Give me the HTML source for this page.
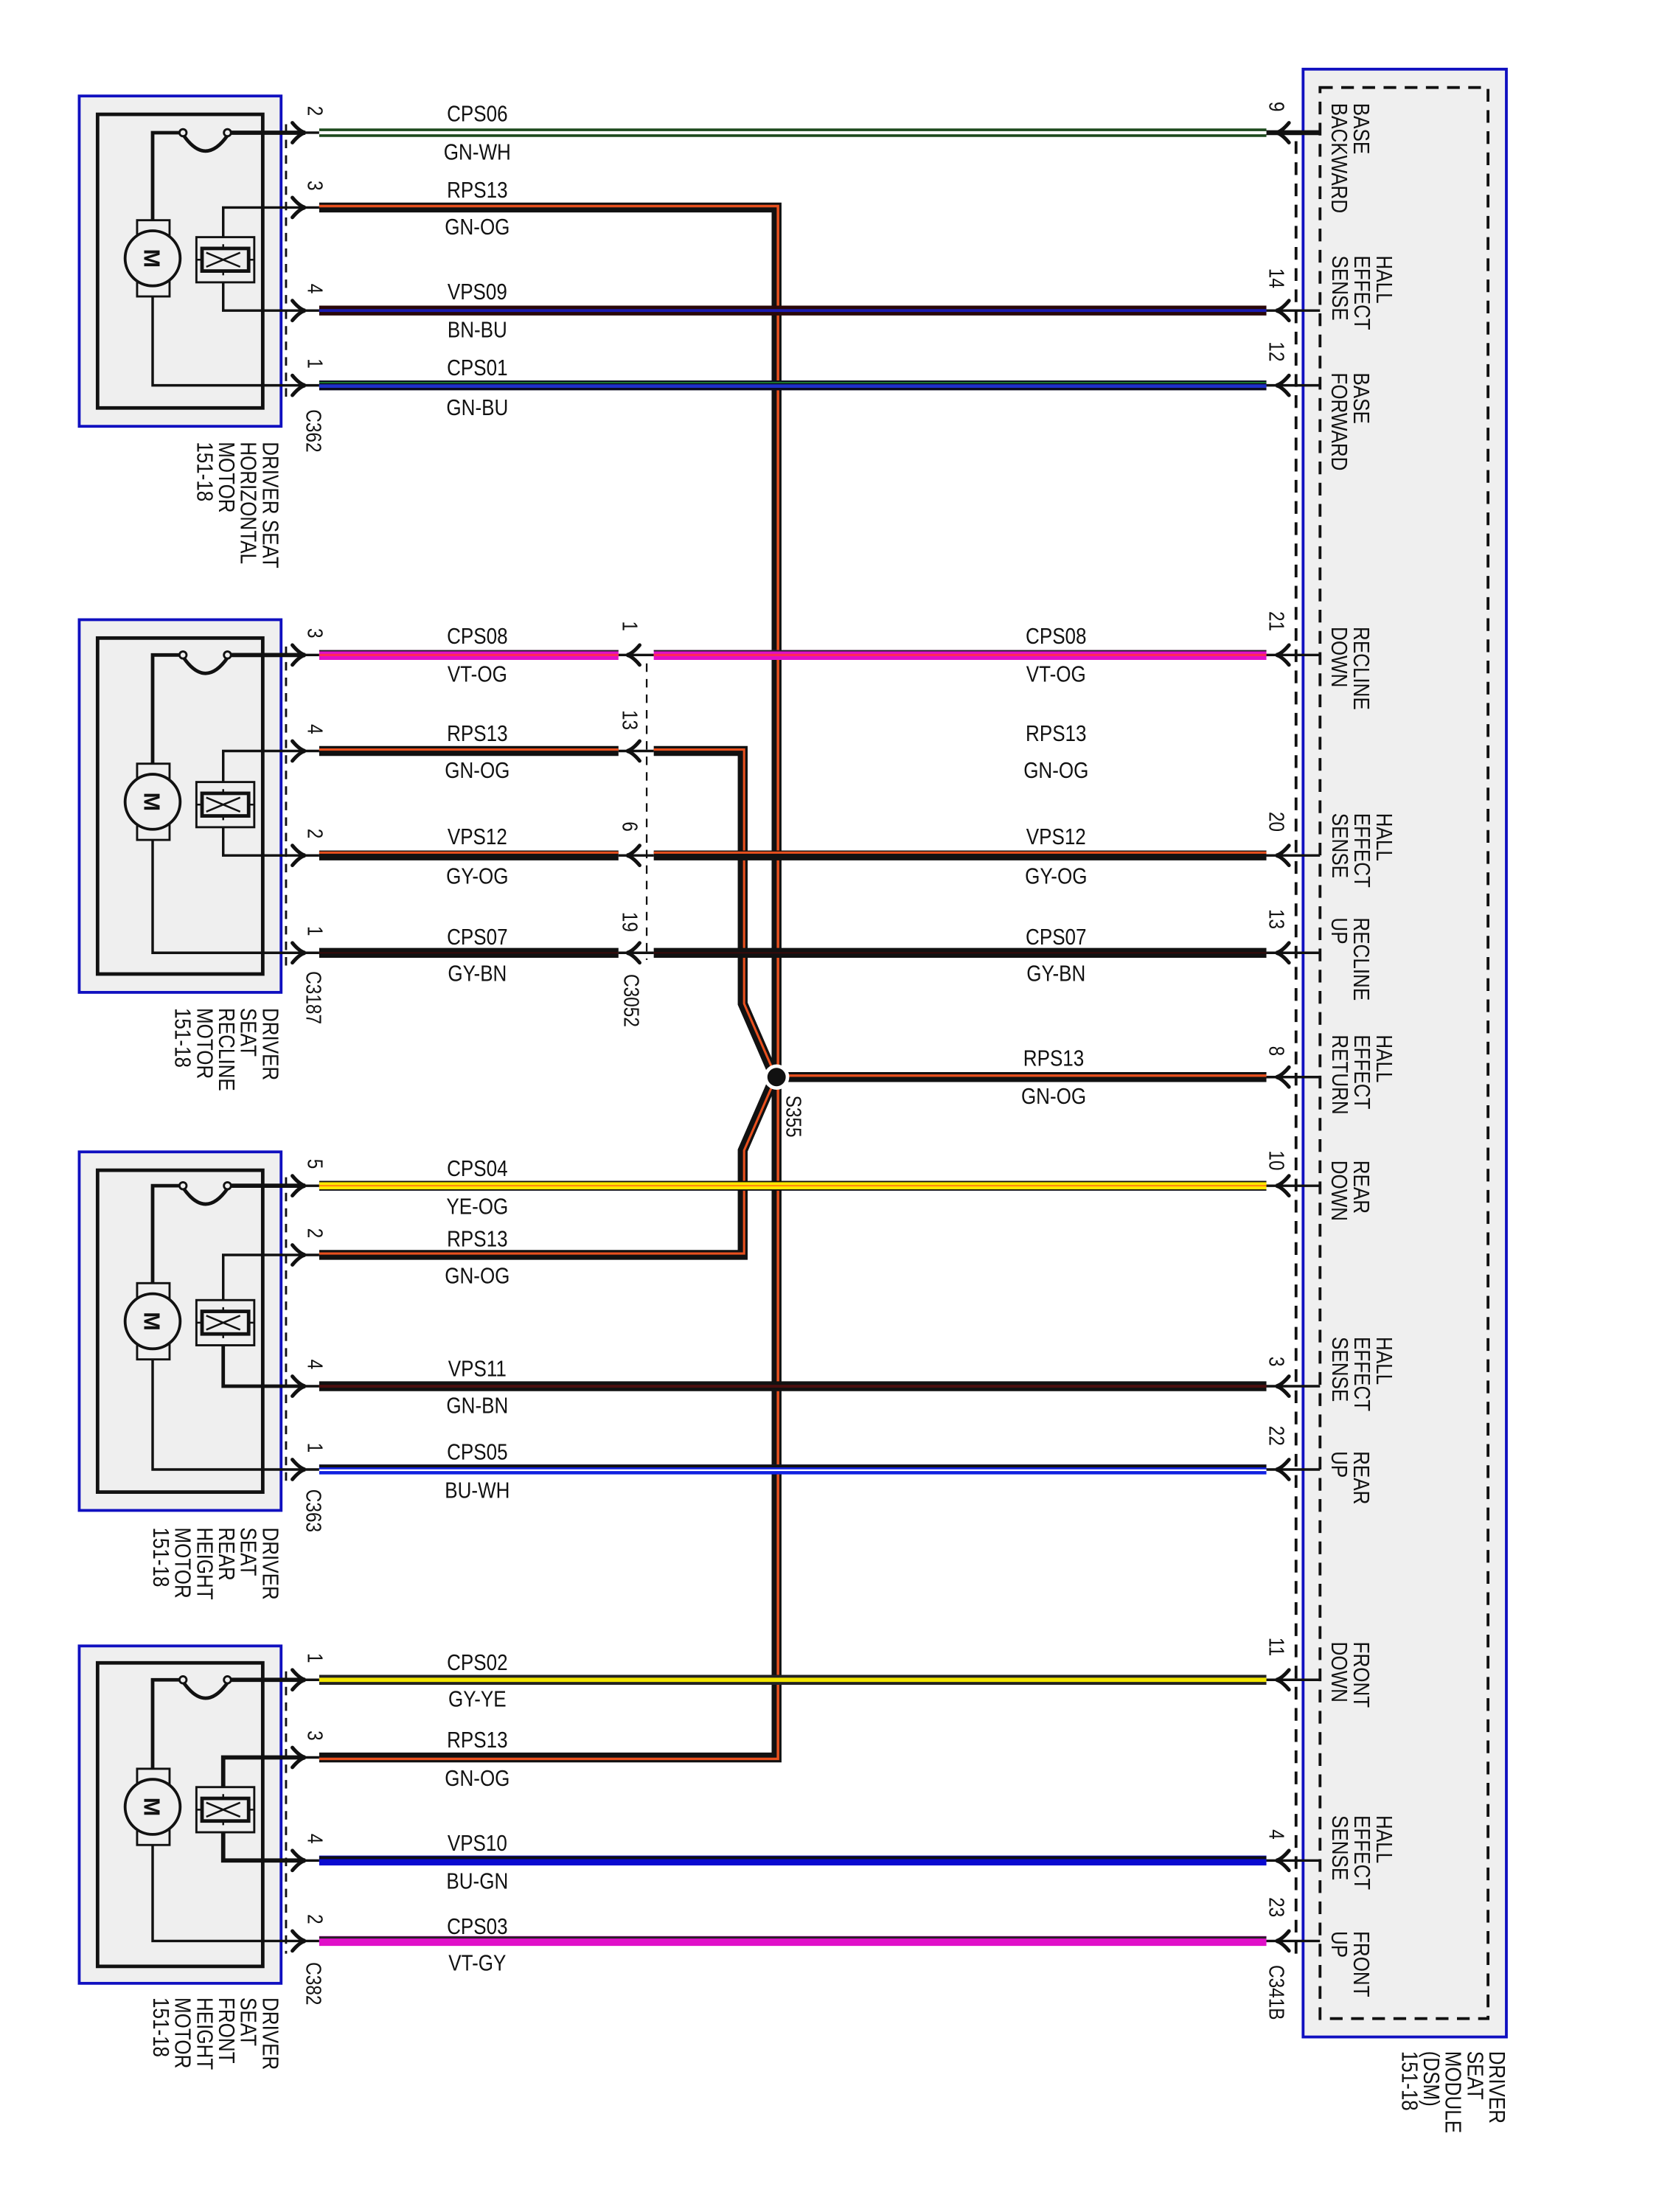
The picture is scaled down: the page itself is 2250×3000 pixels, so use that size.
<!DOCTYPE html>
<html><head><meta charset="utf-8"><style>
html,body{margin:0;padding:0;background:#fff;}
svg{display:block;}
text{font-family:"Liberation Sans",Arial,sans-serif;fill:#111;}
</style></head><body>
<svg width="2250" height="3000" viewBox="0 0 1175 1567" xmlns="http://www.w3.org/2000/svg">
<rect x="0" y="0" width="1175" height="1567" fill="#fff"/>

<!-- DSM -->
<rect x="923" y="49" width="144" height="1394" fill="#efefef" stroke="#1010c0" stroke-width="2"/>
<rect x="935" y="62" width="119" height="1368" fill="none" stroke="#111" stroke-width="2" stroke-dasharray="9,6"/>
<line x1="918" y1="100" x2="918" y2="1385" stroke="#111" stroke-width="2" stroke-dasharray="9,6"/>

<!-- Motor blocks -->
<g stroke-width="2">
<rect x="56" y="68" width="143" height="234" fill="#efefef" stroke="#1010c0"/>
<rect x="56" y="439" width="143" height="264" fill="#efefef" stroke="#1010c0"/>
<rect x="56" y="816" width="143" height="254" fill="#efefef" stroke="#1010c0"/>
<rect x="56" y="1166" width="143" height="239" fill="#efefef" stroke="#1010c0"/>
<g fill="none" stroke="#111" stroke-width="2.5">
<rect x="69" y="81" width="117" height="208"/>
<rect x="69" y="452" width="117" height="238"/>
<rect x="69" y="829" width="117" height="228"/>
<rect x="69" y="1178" width="117" height="215"/>
</g>
<g stroke="#111" stroke-width="1.5" stroke-dasharray="6,5">
<line x1="202.5" y1="88" x2="202.5" y2="282"/>
<line x1="202.5" y1="458" x2="202.5" y2="684"/>
<line x1="202.5" y1="834" x2="202.5" y2="1050"/>
<line x1="202.5" y1="1184" x2="202.5" y2="1384"/>
</g>
<line x1="458" y1="470" x2="458" y2="680" stroke="#111" stroke-width="1.2" stroke-dasharray="6,5"/>
</g>

<g fill="none" stroke="#111">
<path d="M108,156 V94 H128" stroke-width="2.5"/>
<path d="M130,96 Q145.5,118 161,96" stroke-width="2.5"/>
<circle cx="129.5" cy="94" r="2.5" stroke-width="1.5" fill="#efefef"/><circle cx="161" cy="94" r="2.5" stroke-width="1.5" fill="#efefef"/>
<path d="M163,94 H216" stroke-width="3"/>
<path d="M108,210 V273 H216" stroke-width="1.8"/>
<path d="M158,168 V147 H216" stroke-width="1.8"/>
<path d="M158,200 V220 H216" stroke-width="1.8"/>
<path d="M108,541 V464 H128" stroke-width="2.5"/>
<path d="M130,466 Q145.5,488 161,466" stroke-width="2.5"/>
<circle cx="129.5" cy="464" r="2.5" stroke-width="1.5" fill="#efefef"/><circle cx="161" cy="464" r="2.5" stroke-width="1.5" fill="#efefef"/>
<path d="M163,464 H216" stroke-width="3"/>
<path d="M108,595 V675 H216" stroke-width="1.8"/>
<path d="M158,554 V532 H216" stroke-width="1.8"/>
<path d="M158,586 V606 H216" stroke-width="1.8"/>
<path d="M108,909 V840 H128" stroke-width="2.5"/>
<path d="M130,842 Q145.5,864 161,842" stroke-width="2.5"/>
<circle cx="129.5" cy="840" r="2.5" stroke-width="1.5" fill="#efefef"/><circle cx="161" cy="840" r="2.5" stroke-width="1.5" fill="#efefef"/>
<path d="M163,840 H216" stroke-width="3"/>
<path d="M108,963 V1041 H216" stroke-width="1.8"/>
<path d="M158,921 V889 H216" stroke-width="1.8"/>
<path d="M158,953 V982 H216" stroke-width="2.5"/>
<path d="M108,1253 V1190 H128" stroke-width="2.5"/>
<path d="M130,1192 Q145.5,1214 161,1192" stroke-width="2.5"/>
<circle cx="129.5" cy="1190" r="2.5" stroke-width="1.5" fill="#efefef"/><circle cx="161" cy="1190" r="2.5" stroke-width="1.5" fill="#efefef"/>
<path d="M163,1190 H216" stroke-width="3"/>
<path d="M108,1307 V1375 H216" stroke-width="1.8"/>
<path d="M158,1266 V1245 H216" stroke-width="3"/>
<path d="M158,1298 V1318 H216" stroke-width="3"/>
</g>

<g fill="#efefef" stroke="#111" stroke-width="1.5">
<rect x="97" y="156" width="23" height="54"/><circle cx="108" cy="183" r="19.5" stroke-width="2"/>
<rect x="97" y="541" width="23" height="54"/><circle cx="108" cy="568" r="19.5" stroke-width="2"/>
<rect x="97" y="909" width="23" height="54"/><circle cx="108" cy="936" r="19.5" stroke-width="2"/>
<rect x="97" y="1253" width="23" height="54"/><circle cx="108" cy="1280" r="19.5" stroke-width="2"/>
</g>
<g font-size="16" font-weight="bold">
<text transform="translate(102,183) rotate(90)" text-anchor="middle">M</text>
<text transform="translate(102,568) rotate(90)" text-anchor="middle">M</text>
<text transform="translate(102,936) rotate(90)" text-anchor="middle">M</text>
<text transform="translate(102,1280) rotate(90)" text-anchor="middle">M</text>
</g>

<g fill="#efefef" stroke="#111">
<g transform="translate(0,184)"><rect x="139" y="-16" width="41" height="32" stroke-width="1.5"/><rect x="143" y="-8" width="33" height="16" stroke-width="2.5" fill="none"/><path d="M146,-5 L170,5 M146,5 L170,-5 M158,-11 V-7 M158,7 V11 M143,0 H139 M176,0 H180" stroke-width="1.3"/></g>
<g transform="translate(0,570)"><rect x="139" y="-16" width="41" height="32" stroke-width="1.5"/><rect x="143" y="-8" width="33" height="16" stroke-width="2.5" fill="none"/><path d="M146,-5 L170,5 M146,5 L170,-5 M158,-11 V-7 M158,7 V11 M143,0 H139 M176,0 H180" stroke-width="1.3"/></g>
<g transform="translate(0,937)"><rect x="139" y="-16" width="41" height="32" stroke-width="1.5"/><rect x="143" y="-8" width="33" height="16" stroke-width="2.5" fill="none"/><path d="M146,-5 L170,5 M146,5 L170,-5 M158,-11 V-7 M158,7 V11 M143,0 H139 M176,0 H180" stroke-width="1.3"/></g>
<g transform="translate(0,1282)"><rect x="139" y="-16" width="41" height="32" stroke-width="1.5"/><rect x="143" y="-8" width="33" height="16" stroke-width="2.5" fill="none"/><path d="M146,-5 L170,5 M146,5 L170,-5 M158,-11 V-7 M158,7 V11 M143,0 H139 M176,0 H180" stroke-width="1.3"/></g>
</g>

<g stroke="#111" stroke-width="1.8" fill="none">
<path d="M216,94H226 M216,147H226 M216,220H226 M216,273H226"/>
<path d="M216,464H226 M216,532H226 M216,606H226 M216,675H226"/>
<path d="M216,840H226 M216,889H226 M216,982H226 M216,1041H226"/>
<path d="M216,1190H226 M216,1245H226 M216,1318H226 M216,1375H226"/>
<path d="M438,464H463 M438,532H463 M438,606H463 M438,675H463"/>
<path d="M897,220H935 M897,273H935 M897,464H935 M897,606H935 M897,675H935 M897,763H935 M897,840H935 M897,982H935 M897,1041H935 M897,1190H935 M897,1318H935 M897,1375H935"/>
<path d="M897,94H935" stroke-width="3.5"/>
</g>

<g fill="none" stroke-linecap="butt">
<path d="M226,147 H550 V1245 H226" stroke="#111" stroke-width="7"/>
<path d="M226,146 H551 V1246 H226" stroke="#e8501e" stroke-width="1.8"/>
<path d="M226,532 H438" stroke="#111" stroke-width="7"/>
<path d="M226,531 H438" stroke="#e8501e" stroke-width="1.6"/>
<path d="M463,532 H526 V711 L546,757" stroke="#111" stroke-width="7"/>
<path d="M463,531 H527 V711 L547,757" stroke="#e8501e" stroke-width="1.6"/>
<path d="M226,889 H526 V815 L546,769" stroke="#111" stroke-width="7"/>
<path d="M226,888 H527 V815 L547,769" stroke="#e8501e" stroke-width="1.6"/>
<line x1="550" y1="763" x2="897" y2="763" stroke="#111" stroke-width="7"/>
<line x1="550" y1="762" x2="897" y2="762" stroke="#e8501e" stroke-width="1.8"/>
<line x1="226" y1="94" x2="897" y2="94" stroke="#1d4a1d" stroke-width="6"/>
<line x1="226" y1="94" x2="897" y2="94" stroke="#fff" stroke-width="2.2"/>
<line x1="226" y1="220" x2="897" y2="220" stroke="#2a0808" stroke-width="7"/>
<line x1="226" y1="220" x2="897" y2="220" stroke="#1a1ab0" stroke-width="2"/>
<line x1="226" y1="273" x2="897" y2="273" stroke="#0a0a20" stroke-width="7"/>
<line x1="226" y1="271" x2="897" y2="271" stroke="#1e8030" stroke-width="1"/>
<line x1="226" y1="273.5" x2="897" y2="273.5" stroke="#1e30c8" stroke-width="2.5"/>
<path d="M226,464 H438 M463,464 H897" stroke="#e010c8" stroke-width="7"/>
<path d="M226,461 H438 M463,461 H897" stroke="#222" stroke-width="1"/>
<path d="M226,464 H438 M463,464 H897" stroke="#ff2a55" stroke-width="1.6"/>
<path d="M226,606 H438 M463,606 H897" stroke="#111" stroke-width="7"/>
<path d="M226,604 H438 M463,604 H897" stroke="#e8501e" stroke-width="1.6"/>
<path d="M226,675 H438 M463,675 H897" stroke="#111" stroke-width="7"/>
<path d="M226,675 H438 M463,675 H897" stroke="#3a0a0a" stroke-width="1"/>
<line x1="226" y1="840" x2="897" y2="840" stroke="#111" stroke-width="7"/>
<line x1="226" y1="840" x2="897" y2="840" stroke="#ffe800" stroke-width="5"/>
<line x1="226" y1="840" x2="897" y2="840" stroke="#ff7a10" stroke-width="0.9"/>
<line x1="226" y1="982" x2="897" y2="982" stroke="#111" stroke-width="7"/>
<line x1="226" y1="982" x2="897" y2="982" stroke="#4a0d0d" stroke-width="2"/>
<line x1="226" y1="1041" x2="897" y2="1041" stroke="#1020e0" stroke-width="7"/>
<line x1="226" y1="1038.5" x2="897" y2="1038.5" stroke="#111" stroke-width="2"/>
<line x1="226" y1="1041.5" x2="897" y2="1041.5" stroke="#fff" stroke-width="1.3"/>
<line x1="226" y1="1190" x2="897" y2="1190" stroke="#222" stroke-width="7"/>
<line x1="226" y1="1190" x2="897" y2="1190" stroke="#f2e600" stroke-width="3"/>
<line x1="226" y1="1318" x2="897" y2="1318" stroke="#0a0ad0" stroke-width="7"/>
<line x1="226" y1="1316" x2="897" y2="1316" stroke="#111" stroke-width="2"/>
<line x1="226" y1="1375" x2="897" y2="1375" stroke="#e010c8" stroke-width="7"/>
<line x1="226" y1="1372.5" x2="897" y2="1372.5" stroke="#222" stroke-width="1.5"/>
</g>
<circle cx="550" cy="763" r="9" fill="#fff"/>
<circle cx="550" cy="763" r="6.5" fill="#111"/>

<g fill="none" stroke="#111" stroke-width="2.6" stroke-linecap="round">
<path d="M207,87 Q212,93 216,94 Q212,95 207,101"/>
<path d="M207,140 Q212,146 216,147 Q212,148 207,154"/>
<path d="M207,213 Q212,219 216,220 Q212,221 207,227"/>
<path d="M207,266 Q212,272 216,273 Q212,274 207,280"/>
<path d="M207,457 Q212,463 216,464 Q212,465 207,471"/>
<path d="M207,525 Q212,531 216,532 Q212,533 207,539"/>
<path d="M207,599 Q212,605 216,606 Q212,607 207,613"/>
<path d="M207,668 Q212,674 216,675 Q212,676 207,682"/>
<path d="M207,833 Q212,839 216,840 Q212,841 207,847"/>
<path d="M207,882 Q212,888 216,889 Q212,890 207,896"/>
<path d="M207,975 Q212,981 216,982 Q212,983 207,989"/>
<path d="M207,1034 Q212,1040 216,1041 Q212,1042 207,1048"/>
<path d="M207,1183 Q212,1189 216,1190 Q212,1191 207,1197"/>
<path d="M207,1238 Q212,1244 216,1245 Q212,1246 207,1252"/>
<path d="M207,1311 Q212,1317 216,1318 Q212,1319 207,1325"/>
<path d="M207,1368 Q212,1374 216,1375 Q212,1376 207,1382"/>
<path d="M453,457 Q448,463 444,464 Q448,465 453,471"/>
<path d="M453,525 Q448,531 444,532 Q448,533 453,539"/>
<path d="M453,599 Q448,605 444,606 Q448,607 453,613"/>
<path d="M453,668 Q448,674 444,675 Q448,676 453,682"/>
<path d="M913,87 Q908,93 904,94 Q908,95 913,101"/>
<path d="M913,213 Q908,219 904,220 Q908,221 913,227"/>
<path d="M913,266 Q908,272 904,273 Q908,274 913,280"/>
<path d="M913,457 Q908,463 904,464 Q908,465 913,471"/>
<path d="M913,599 Q908,605 904,606 Q908,607 913,613"/>
<path d="M913,668 Q908,674 904,675 Q908,676 913,682"/>
<path d="M913,756 Q908,762 904,763 Q908,764 913,770"/>
<path d="M913,833 Q908,839 904,840 Q908,841 913,847"/>
<path d="M913,975 Q908,981 904,982 Q908,983 913,989"/>
<path d="M913,1034 Q908,1040 904,1041 Q908,1042 913,1048"/>
<path d="M913,1183 Q908,1189 904,1190 Q908,1191 913,1197"/>
<path d="M913,1311 Q908,1317 904,1318 Q908,1319 913,1325"/>
<path d="M913,1368 Q908,1374 904,1375 Q908,1376 913,1382"/>
</g>

<g font-size="16" text-anchor="middle">
<g transform="translate(338,0) scale(0.85,1)">
<text x="0" y="86">CPS06</text><text x="0" y="113">GN-WH</text>
<text x="0" y="140">RPS13</text><text x="0" y="166">GN-OG</text>
<text x="0" y="212">VPS09</text><text x="0" y="239">BN-BU</text>
<text x="0" y="266">CPS01</text><text x="0" y="294">GN-BU</text>
<text x="0" y="456">CPS08</text><text x="0" y="483">VT-OG</text>
<text x="0" y="525">RPS13</text><text x="0" y="551">GN-OG</text>
<text x="0" y="598">VPS12</text><text x="0" y="626">GY-OG</text>
<text x="0" y="669">CPS07</text><text x="0" y="695">GY-BN</text>
<text x="0" y="833">CPS04</text><text x="0" y="860">YE-OG</text>
<text x="0" y="883">RPS13</text><text x="0" y="909">GN-OG</text>
<text x="0" y="975">VPS11</text><text x="0" y="1001">GN-BN</text>
<text x="0" y="1034">CPS05</text><text x="0" y="1061">BU-WH</text>
<text x="0" y="1183">CPS02</text><text x="0" y="1209">GY-YE</text>
<text x="0" y="1238">RPS13</text><text x="0" y="1265">GN-OG</text>
<text x="0" y="1311">VPS10</text><text x="0" y="1338">BU-GN</text>
<text x="0" y="1370">CPS03</text><text x="0" y="1396">VT-GY</text>
</g>
<g transform="translate(748,0) scale(0.85,1)">
<text x="0" y="456">CPS08</text><text x="0" y="483">VT-OG</text>
<text x="0" y="525">RPS13</text><text x="0" y="551">GN-OG</text>
<text x="0" y="598">VPS12</text><text x="0" y="626">GY-OG</text>
<text x="0" y="669">CPS07</text><text x="0" y="695">GY-BN</text>
<text x="-2" y="755">RPS13</text><text x="-2" y="782">GN-OG</text>
</g>
</g>

<g font-size="15">
<text transform="translate(218,75) rotate(90) scale(0.85,1)">2</text>
<text transform="translate(218,128) rotate(90) scale(0.85,1)">3</text>
<text transform="translate(218,201) rotate(90) scale(0.85,1)">4</text>
<text transform="translate(218,254) rotate(90) scale(0.85,1)">1</text>
<text transform="translate(218,445) rotate(90) scale(0.85,1)">3</text>
<text transform="translate(218,513) rotate(90) scale(0.85,1)">4</text>
<text transform="translate(218,587) rotate(90) scale(0.85,1)">2</text>
<text transform="translate(218,656) rotate(90) scale(0.85,1)">1</text>
<text transform="translate(218,821) rotate(90) scale(0.85,1)">5</text>
<text transform="translate(218,870) rotate(90) scale(0.85,1)">2</text>
<text transform="translate(218,963) rotate(90) scale(0.85,1)">4</text>
<text transform="translate(218,1022) rotate(90) scale(0.85,1)">1</text>
<text transform="translate(218,1171) rotate(90) scale(0.85,1)">1</text>
<text transform="translate(218,1226) rotate(90) scale(0.85,1)">3</text>
<text transform="translate(218,1299) rotate(90) scale(0.85,1)">4</text>
<text transform="translate(218,1356) rotate(90) scale(0.85,1)">2</text>
<text transform="translate(441,440) rotate(90) scale(0.85,1)">1</text>
<text transform="translate(441,503) rotate(90) scale(0.85,1)">13</text>
<text transform="translate(441,582) rotate(90) scale(0.85,1)">6</text>
<text transform="translate(441,646) rotate(90) scale(0.85,1)">19</text>
<text transform="translate(899,72) rotate(90) scale(0.85,1)">9</text>
<text transform="translate(899,190) rotate(90) scale(0.85,1)">14</text>
<text transform="translate(899,242) rotate(90) scale(0.85,1)">12</text>
<text transform="translate(899,433) rotate(90) scale(0.85,1)">21</text>
<text transform="translate(899,575) rotate(90) scale(0.85,1)">20</text>
<text transform="translate(899,644) rotate(90) scale(0.85,1)">13</text>
<text transform="translate(899,741) rotate(90) scale(0.85,1)">8</text>
<text transform="translate(899,815) rotate(90) scale(0.85,1)">10</text>
<text transform="translate(899,961) rotate(90) scale(0.85,1)">3</text>
<text transform="translate(899,1010) rotate(90) scale(0.85,1)">22</text>
<text transform="translate(899,1160) rotate(90) scale(0.85,1)">11</text>
<text transform="translate(899,1296) rotate(90) scale(0.85,1)">4</text>
<text transform="translate(899,1344) rotate(90) scale(0.85,1)">23</text>
<text transform="translate(217,290) rotate(90) scale(0.85,1)">C362</text>
<text transform="translate(217,688) rotate(90) scale(0.85,1)">C3187</text>
<text transform="translate(442,690) rotate(90) scale(0.85,1)">C3052</text>
<text transform="translate(557,776) rotate(90) scale(0.85,1)">S355</text>
<text transform="translate(217,1055) rotate(90) scale(0.85,1)">C363</text>
<text transform="translate(217,1390) rotate(90) scale(0.85,1)">C382</text>
<text transform="translate(899,1392) rotate(90) scale(0.85,1)">C341B</text>
</g>

<g font-size="16">
<text transform="translate(186,313) rotate(90) scale(0.85,1)"><tspan x="0" dy="0">DRIVER SEAT</tspan><tspan x="0" dy="15.5">HORIZONTAL</tspan><tspan x="0" dy="15.5">MOTOR</tspan><tspan x="0" dy="15.5">151-18</tspan></text>
<text transform="translate(186,714) rotate(90) scale(0.85,1)"><tspan x="0" dy="0">DRIVER</tspan><tspan x="0" dy="15.5">SEAT</tspan><tspan x="0" dy="15.5">RECLINE</tspan><tspan x="0" dy="15.5">MOTOR</tspan><tspan x="0" dy="15.5">151-18</tspan></text>
<text transform="translate(186,1082) rotate(90) scale(0.85,1)"><tspan x="0" dy="0">DRIVER</tspan><tspan x="0" dy="15.5">SEAT</tspan><tspan x="0" dy="15.5">REAR</tspan><tspan x="0" dy="15.5">HEIGHT</tspan><tspan x="0" dy="15.5">MOTOR</tspan><tspan x="0" dy="15.5">151-18</tspan></text>
<text transform="translate(186,1415) rotate(90) scale(0.85,1)"><tspan x="0" dy="0">DRIVER</tspan><tspan x="0" dy="15.5">SEAT</tspan><tspan x="0" dy="15.5">FRONT</tspan><tspan x="0" dy="15.5">HEIGHT</tspan><tspan x="0" dy="15.5">MOTOR</tspan><tspan x="0" dy="15.5">151-18</tspan></text>
<text transform="translate(1055,1453) rotate(90) scale(0.85,1)"><tspan x="0" dy="0">DRIVER</tspan><tspan x="0" dy="15.5">SEAT</tspan><tspan x="0" dy="15.5">MODULE</tspan><tspan x="0" dy="15.5">(DSM)</tspan><tspan x="0" dy="15.5">151-18</tspan></text>

<text transform="translate(959,73) rotate(90) scale(0.85,1)"><tspan x="0" dy="0">BASE</tspan><tspan x="0" dy="15.7">BACKWARD</tspan></text>
<text transform="translate(975,181) rotate(90) scale(0.85,1)"><tspan x="0" dy="0">HALL</tspan><tspan x="0" dy="15.7">EFFECT</tspan><tspan x="0" dy="15.7">SENSE</tspan></text>
<text transform="translate(959,264) rotate(90) scale(0.85,1)"><tspan x="0" dy="0">BASE</tspan><tspan x="0" dy="15.7">FORWARD</tspan></text>
<text transform="translate(959,444) rotate(90) scale(0.85,1)"><tspan x="0" dy="0">RECLINE</tspan><tspan x="0" dy="15.7">DOWN</tspan></text>
<text transform="translate(975,576) rotate(90) scale(0.85,1)"><tspan x="0" dy="0">HALL</tspan><tspan x="0" dy="15.7">EFFECT</tspan><tspan x="0" dy="15.7">SENSE</tspan></text>
<text transform="translate(959,650) rotate(90) scale(0.85,1)"><tspan x="0" dy="0">RECLINE</tspan><tspan x="0" dy="15.7">UP</tspan></text>
<text transform="translate(975,733) rotate(90) scale(0.85,1)"><tspan x="0" dy="0">HALL</tspan><tspan x="0" dy="15.7">EFFECT</tspan><tspan x="0" dy="15.7">RETURN</tspan></text>
<text transform="translate(959,822) rotate(90) scale(0.85,1)"><tspan x="0" dy="0">REAR</tspan><tspan x="0" dy="15.7">DOWN</tspan></text>
<text transform="translate(975,947) rotate(90) scale(0.85,1)"><tspan x="0" dy="0">HALL</tspan><tspan x="0" dy="15.7">EFFECT</tspan><tspan x="0" dy="15.7">SENSE</tspan></text>
<text transform="translate(959,1028) rotate(90) scale(0.85,1)"><tspan x="0" dy="0">REAR</tspan><tspan x="0" dy="15.7">UP</tspan></text>
<text transform="translate(959,1163) rotate(90) scale(0.85,1)"><tspan x="0" dy="0">FRONT</tspan><tspan x="0" dy="15.7">DOWN</tspan></text>
<text transform="translate(975,1286) rotate(90) scale(0.85,1)"><tspan x="0" dy="0">HALL</tspan><tspan x="0" dy="15.7">EFFECT</tspan><tspan x="0" dy="15.7">SENSE</tspan></text>
<text transform="translate(959,1368) rotate(90) scale(0.85,1)"><tspan x="0" dy="0">FRONT</tspan><tspan x="0" dy="15.7">UP</tspan></text>
</g>
</svg>
</body></html>
